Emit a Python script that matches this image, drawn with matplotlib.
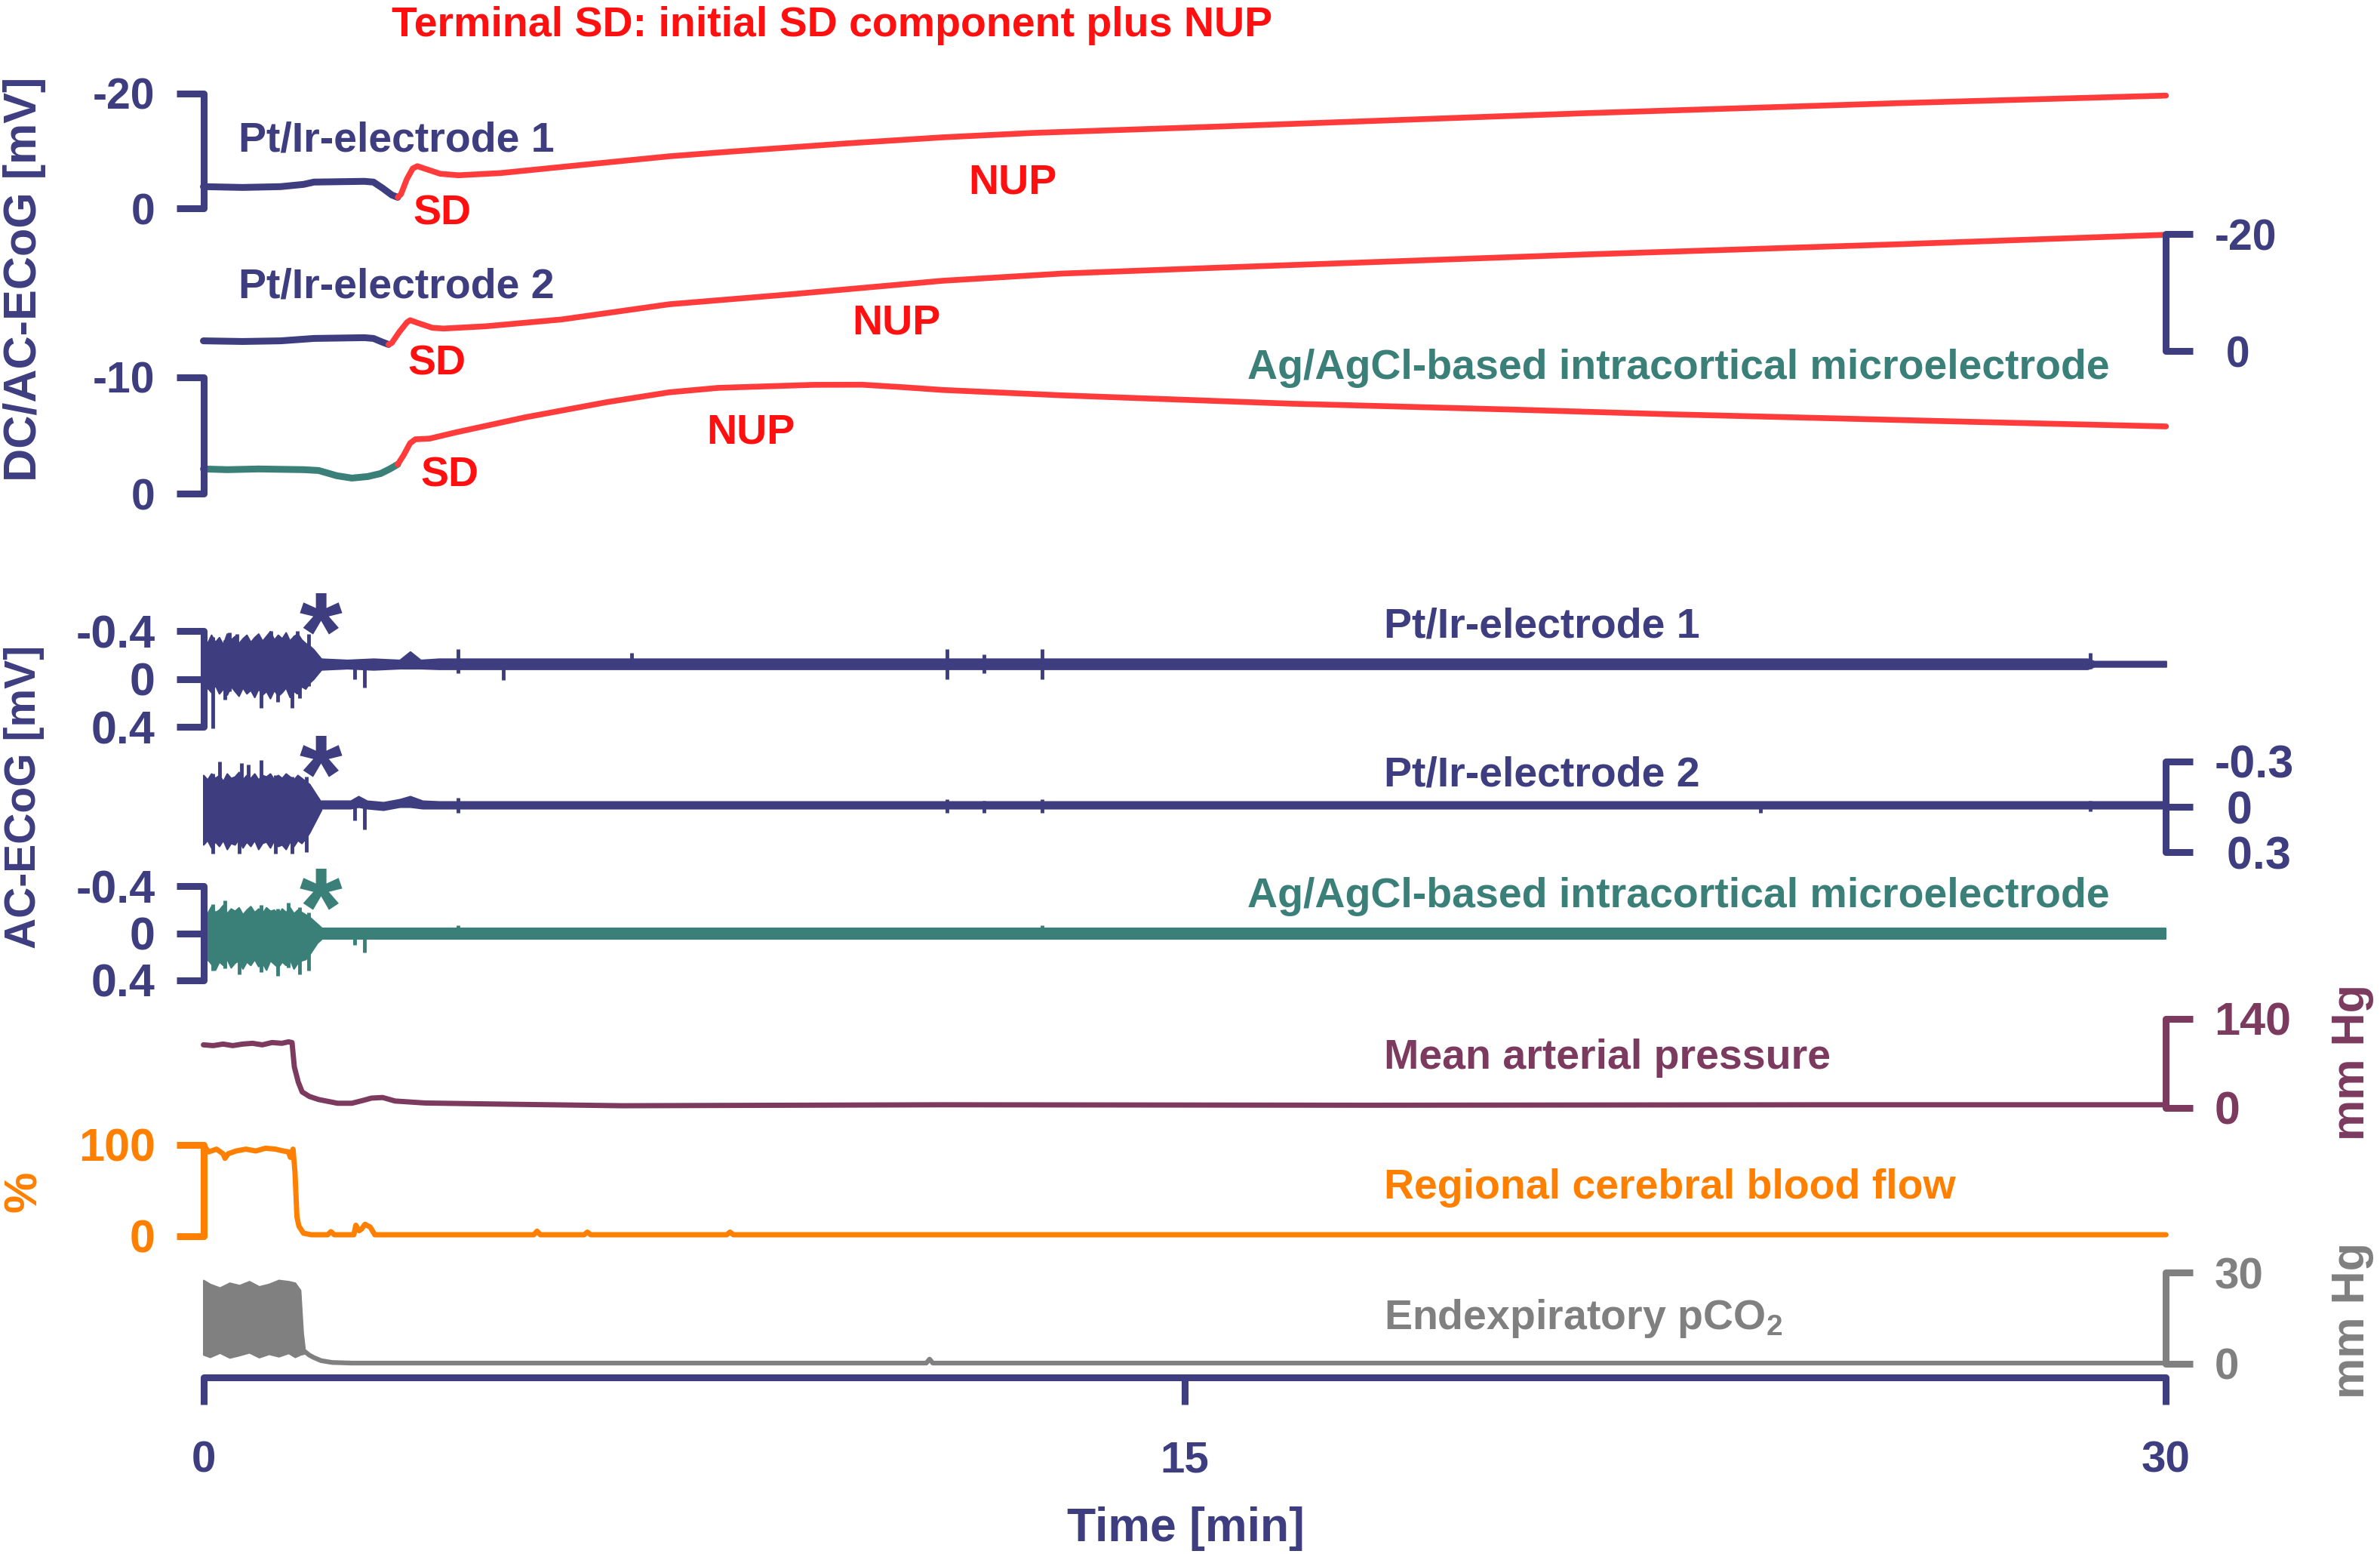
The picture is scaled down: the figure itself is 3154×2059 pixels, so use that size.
import matplotlib
matplotlib.use("Agg")
import matplotlib.pyplot as plt
import numpy as np

plt.rcParams["font.family"] = ["Liberation Sans", "DejaVu Sans"]
plt.rcParams["font.weight"] = "bold"
plt.rcParams["mathtext.fontset"] = "custom"
plt.rcParams["mathtext.rm"] = "Liberation Sans:bold"
plt.rcParams["mathtext.default"] = "rm"

NAVY = "#3D3D80"
TEAL = "#3A8079"
RED = "#FF3B3B"
RED_TXT = "#FF1010"
PLUM = "#7B3A5E"
ORANGE = "#FF8000"
GREY = "#808080"

# ---------------- DC-ECoG traces (mV, negative plotted upwards) ----------------
dc1_t = [0.0, 0.60, 1.18, 1.53, 1.69, 2.46, 2.60, 2.74, 2.88, 2.97, 3.02, 3.11, 3.20, 3.27,
         3.41, 3.62, 3.90, 4.55, 5.48, 7.12, 8.03, 9.89, 11.30, 12.67, 15.45, 21.11, 25.89, 30.0]
dc1_v = [-3.82, -3.68, -3.82, -4.21, -4.61, -4.74, -4.61, -3.55, -2.37, -1.97, -2.50, -5.13,
         -6.97, -7.37, -6.84, -6.05, -5.79, -6.18, -7.24, -9.08, -9.87, -11.36, -12.37, -13.13,
         -14.21, -16.55, -18.29, -19.61]
dc1_sd = 2.97

dc2_t = [0.0, 0.60, 1.18, 1.53, 1.69, 2.46, 2.60, 2.74, 2.83, 2.88, 2.99, 3.11, 3.16, 3.29,
         3.50, 3.67, 4.32, 5.48, 7.12, 8.96, 11.30, 13.13, 15.45, 21.11, 25.89, 30.0]
dc2_v = [-1.74, -1.63, -1.74, -2.02, -2.15, -2.28, -2.15, -1.50, -1.12, -1.37, -3.19, -4.88,
         -5.27, -4.75, -3.97, -3.84, -4.23, -5.40, -7.99, -9.68, -12.01, -13.24, -14.22,
         -16.50, -18.24, -19.87]
dc2_sd = 2.83

dc3_t = [0.0, 0.37, 0.84, 1.53, 1.76, 2.04, 2.27, 2.51, 2.71, 2.85, 2.97, 3.06, 3.16, 3.24,
         3.46, 3.85, 4.92, 6.17, 7.12, 7.87, 9.33, 10.07, 10.74, 11.30, 13.13, 16.61, 20.09,
         22.42, 24.80, 27.05, 30.0]
dc3_v = [-2.14, -2.08, -2.14, -2.08, -2.01, -1.56, -1.36, -1.49, -1.75, -2.14, -2.53, -3.31,
         -4.35, -4.68, -4.74, -5.26, -6.56, -7.86, -8.70, -9.08, -9.34, -9.35, -9.12, -8.90,
         -8.44, -7.73, -7.21, -6.82, -6.49, -6.17, -5.78]
dc3_sd = 2.97

# ---------------- AC-ECoG traces (mV, negative up) ----------------
burst_t = [0.0, 0.06, 0.12, 0.18, 0.24, 0.30, 0.36, 0.42, 0.48, 0.54, 0.60, 0.66, 0.72, 0.78,
           0.84, 0.90, 0.96, 1.02, 1.08, 1.14, 1.20, 1.26, 1.32, 1.38, 1.44, 1.50, 1.56, 1.62,
           1.68, 1.74, 1.80]

ac1_hi = [-0.36, -0.30, -0.37, -0.31, -0.35, -0.29, -0.38, -0.33, -0.36, -0.30, -0.34, -0.37,
          -0.31, -0.35, -0.38, -0.32, -0.36, -0.40, -0.33, -0.37, -0.34, -0.39, -0.32, -0.36,
          -0.38, -0.33, -0.30, -0.28, -0.25, -0.21, -0.17]
ac1_lo = [0.14, 0.07, 0.11, 0.05, 0.12, 0.08, 0.13, 0.06, 0.10, 0.14, 0.07, 0.12, 0.09, 0.15,
          0.08, 0.13, 0.10, 0.16, 0.09, 0.14, 0.11, 0.07, 0.15, 0.10, 0.12, 0.06, 0.08, 0.03,
          0.00, -0.04, -0.08]
ac1_post_t = [1.8, 2.2, 2.6, 3.0, 3.16, 3.32, 3.6, 28.8, 28.9, 30.0]
ac1_post_hi = [-0.17, -0.16, -0.17, -0.16, -0.23, -0.16, -0.17, -0.17, -0.15, -0.15]
ac1_post_lo = [-0.08, -0.09, -0.08, -0.09, -0.09, -0.09, -0.085, -0.085, -0.105, -0.105]
ac1_spike_t = [0.14, 0.33, 0.40, 0.51, 0.88, 1.03, 1.14, 1.36, 1.43, 1.47, 1.61,
               2.31, 2.46, 3.89, 4.59, 6.54, 11.37, 11.93, 12.82, 28.84]
ac1_spike_hi = [-0.35, -0.33, -0.39, -0.38, -0.33, -0.40, -0.36, -0.34, -0.40, -0.34, -0.38,
                -0.14, -0.15, -0.25, -0.13, -0.22, -0.25, -0.21, -0.25, -0.22]
ac1_spike_lo = [0.41, 0.17, 0.10, 0.10, 0.24, 0.12, 0.19, 0.24, 0.12, 0.16, 0.06,
                0.00, 0.07, -0.05, 0.01, -0.10, 0.00, -0.05, 0.00, -0.09]

ac2_hi = [-0.21, -0.18, -0.22, -0.19, -0.21, -0.17, -0.22, -0.19, -0.20, -0.23, -0.18, -0.21,
          -0.19, -0.22, -0.18, -0.21, -0.20, -0.22, -0.18, -0.21, -0.19, -0.22, -0.20, -0.18,
          -0.21, -0.19, -0.17, -0.15, -0.11, -0.07, -0.03]
ac2_lo = [0.25, 0.22, 0.27, 0.23, 0.26, 0.22, 0.28, 0.24, 0.25, 0.21, 0.27, 0.23, 0.26, 0.22,
          0.28, 0.24, 0.23, 0.27, 0.22, 0.26, 0.25, 0.28, 0.23, 0.26, 0.22, 0.24, 0.21, 0.17,
          0.12, 0.07, 0.02]
ac2_post_t = [1.8, 2.25, 2.37, 2.5, 2.75, 3.0, 3.16, 3.35, 3.6, 30.0]
ac2_post_hi = [-0.04, -0.04, -0.07, -0.04, -0.03, -0.05, -0.07, -0.04, -0.035, -0.035]
ac2_post_lo = [0.01, 0.01, 0.0, 0.01, 0.02, 0.0, 0.0, 0.01, 0.01, 0.01]
ac2_spike_t = [0.14, 0.25, 0.55, 0.58, 0.69, 0.88, 1.10, 1.36, 1.57,
               2.31, 2.46, 3.89, 11.37, 11.93, 12.82, 23.8, 28.84]
ac2_spike_hi = [-0.22, -0.30, -0.22, -0.29, -0.28, -0.31, -0.21, -0.20, -0.20,
                -0.03, -0.04, -0.06, -0.05, -0.04, -0.05, -0.02, -0.04]
ac2_spike_lo = [0.31, 0.24, 0.31, 0.25, 0.24, 0.24, 0.31, 0.31, 0.30,
                0.09, 0.15, 0.04, 0.04, 0.04, 0.04, 0.04, 0.03]

ac3_hi = [-0.21, -0.17, -0.23, -0.18, -0.20, -0.24, -0.17, -0.21, -0.19, -0.22, -0.16, -0.20,
          -0.23, -0.18, -0.21, -0.17, -0.22, -0.19, -0.20, -0.16, -0.21, -0.18, -0.22, -0.17,
          -0.20, -0.18, -0.16, -0.14, -0.11, -0.08, -0.05]
ac3_lo = [0.28, 0.22, 0.26, 0.31, 0.24, 0.27, 0.22, 0.29, 0.25, 0.23, 0.30, 0.24, 0.27, 0.22,
          0.28, 0.25, 0.31, 0.23, 0.26, 0.29, 0.24, 0.27, 0.22, 0.30, 0.25, 0.23, 0.22, 0.18,
          0.13, 0.08, 0.05]
ac3_post_t = [1.8, 30.0]
ac3_post_hi = [-0.04, -0.04]
ac3_post_lo = [0.05, 0.05]
ac3_spike_t = [0.03, 0.14, 0.33, 0.55, 0.88, 1.14, 1.30, 1.47, 1.61, 2.31, 2.46, 3.89, 12.82]
ac3_spike_hi = [-0.22, -0.25, -0.28, -0.20, -0.24, -0.21, -0.26, -0.22, -0.18, -0.02, -0.03,
                -0.07, -0.07]
ac3_spike_lo = [0.38, 0.32, 0.30, 0.35, 0.33, 0.36, 0.29, 0.35, 0.32, 0.10, 0.16, 0.05, 0.05]

# ---------------- systemic signals ----------------
map_t = [0.0, 0.15, 0.3, 0.45, 0.6, 0.75, 0.9, 1.05, 1.2, 1.3, 1.355, 1.39, 1.45, 1.51, 1.62,
         1.76, 2.05, 2.27, 2.45, 2.57, 2.74, 2.93, 3.39, 4.43, 6.40, 11.3, 17.8, 24.7, 30.0]
map_v = [99.0, 97.8, 100.2, 97.8, 100.2, 101.4, 99.0, 102.6, 101.4, 103.7, 102.6, 64.4, 40.5,
         25.0, 17.9, 13.1, 7.2, 7.2, 11.9, 15.3, 16.2, 10.7, 7.6, 6.0, 3.3, 4.8, 4.1, 4.8, 4.8]

cbf_t = [0.0, 0.08, 0.2, 0.3, 0.33, 0.38, 0.5, 0.65, 0.8, 0.95, 1.1, 1.22, 1.3, 1.33, 1.37,
         1.40, 1.43, 1.46, 1.53, 1.65, 1.90, 1.95, 2.0, 2.30, 2.33, 2.38, 2.42, 2.47, 2.55,
         2.62, 5.05, 5.1, 5.15, 5.82, 5.87, 5.92, 8.0, 8.05, 8.1, 30.0]
cbf_v = [100, 92, 95, 90, 85, 90, 93, 95, 93, 96, 95, 93, 92, 86, 95,
         70, 21, 11, 3.3, 1.6, 1.6, 5, 1.6, 1.6, 12, 6, 8, 13, 10,
         1.6, 1.6, 5.5, 1.6, 1.6, 4.5, 1.6, 1.6, 4.5, 1.6, 1.6]

pco2_block_t = [0.0, 0.1, 0.25, 0.4, 0.55, 0.7, 0.85, 1.0, 1.15, 1.3, 1.4, 1.48, 1.52, 1.55]
pco2_block_hi = [27.5, 26.2, 25.0, 26.6, 25.8, 27.1, 25.4, 26.2, 27.5, 27.1, 26.6, 24.2, 10.0, 4.5]
pco2_block_lo = [3.0, 2.2, 3.6, 2.0, 2.8, 3.7, 2.1, 3.2, 2.4, 3.5, 2.2, 3.0, 3.2, 3.4]
pco2_t = [1.55, 1.62, 1.69, 1.8, 1.97, 2.27, 11.05, 11.1, 11.15, 30.0]
pco2_v = [4.0, 2.8, 2.0, 1.0, 0.4, 0.2, 0.2, 1.5, 0.2, 0.2]

time_ticks = [0, 15, 30]

# ---------------- layout helpers (positions on a 1568 x 1024 grid) ----------------
W, H = 1568.0, 1024.0
X0, X1 = 134.0, 1427.0
BAR_LW = 6.5
TICK_LEN = 26

fig = plt.figure(figsize=(31.54, 20.59), dpi=100)


def trace_axes(y_top, y_bot, v_top, v_bot):
    ax = fig.add_axes([X0 / W, 1 - y_bot / H, (X1 - X0) / W, (y_bot - y_top) / H])
    ax.patch.set_alpha(0)
    for sp in ax.spines.values():
        sp.set_visible(False)
    ax.set_xticks([])
    ax.set_yticks([])
    ax.set_xlim(0, 30)
    ax.set_ylim(v_bot, v_top)
    return ax


def scale_bar(ax, side, ticks, labels, color, size):
    lim = ax.get_ylim()
    sp = ax.spines[side]
    sp.set_visible(True)
    sp.set_color(color)
    sp.set_linewidth(BAR_LW)
    sp.set_bounds(min(ticks), max(ticks))
    sp.set_capstyle("round")
    ax.yaxis.set_ticks_position(side)
    ax.set_yticks(ticks)
    ax.set_yticklabels(labels)
    ax.tick_params(axis="y", direction="out", length=TICK_LEN, width=BAR_LW, color=color,
                   labelcolor=color, labelsize=size, pad=20)
    ax.set_ylim(lim)


def put(x, y, s, color, ha="left", size=40, **kw):
    fig.text(x / W, 1 - y / H, s, color=color, ha=ha, va="baseline", fontsize=size, **kw)


def plot_dc(ax, t, v, t_sd, color):
    t = np.asarray(t)
    v = np.asarray(v)
    pre = t <= t_sd
    post = t >= t_sd
    ax.plot(t[pre], v[pre], color=color, lw=6.5, clip_on=False, solid_capstyle="round",
            solid_joinstyle="round")
    ax.plot(t[post], v[post], color=RED, lw=5.5, clip_on=False, solid_capstyle="round",
            solid_joinstyle="round")


def plot_ac(ax, color, hi, lo, pt, phi, plo, st, shi, slo):
    ax.fill_between(burst_t, hi, lo, color=color, lw=1.5, clip_on=False)
    ax.fill_between(pt, phi, plo, color=color, lw=1.5, clip_on=False)
    ax.vlines(st, shi, slo, color=color, lw=3.5, clip_on=False)


# ---------------- DC panel ----------------
ax = trace_axes(61.5, 137.5, -20, 0)
plot_dc(ax, dc1_t, dc1_v, dc1_sd, NAVY)
scale_bar(ax, "left", [-20, 0], ["-20", "0"], NAVY, 41)

ax = trace_axes(154.2, 231.3, -20, 0)
plot_dc(ax, dc2_t, dc2_v, dc2_sd, NAVY)
scale_bar(ax, "right", [-20, 0], ["-20", " 0"], NAVY, 41)

ax = trace_axes(248.5, 325.5, -10, 0)
plot_dc(ax, dc3_t, dc3_v, dc3_sd, TEAL)
scale_bar(ax, "left", [-10, 0], ["-10", "0"], NAVY, 41)

# ---------------- AC panel ----------------
ax = trace_axes(416, 479, -0.4, 0.4)
plot_ac(ax, NAVY, ac1_hi, ac1_lo, ac1_post_t, ac1_post_hi, ac1_post_lo,
        ac1_spike_t, ac1_spike_hi, ac1_spike_lo)
scale_bar(ax, "left", [-0.4, 0, 0.4], ["-0.4", "0", "0.4"], NAVY, 44)

ax = trace_axes(501.8, 561.5, -0.3, 0.3)
plot_ac(ax, NAVY, ac2_hi, ac2_lo, ac2_post_t, ac2_post_hi, ac2_post_lo,
        ac2_spike_t, ac2_spike_hi, ac2_spike_lo)
scale_bar(ax, "right", [-0.3, 0, 0.3], ["-0.3", " 0", " 0.3"], NAVY, 44)

ax = trace_axes(584, 646, -0.4, 0.4)
plot_ac(ax, TEAL, ac3_hi, ac3_lo, ac3_post_t, ac3_post_hi, ac3_post_lo,
        ac3_spike_t, ac3_spike_hi, ac3_spike_lo)
scale_bar(ax, "left", [-0.4, 0, 0.4], ["-0.4", "0", "0.4"], NAVY, 44)

# ---------------- systemic panel ----------------
ax = trace_axes(671.3, 730, 140, 0)
ax.plot(map_t, map_v, color=PLUM, lw=5, clip_on=False, solid_capstyle="round")
scale_bar(ax, "right", [0, 140], ["0", "140"], PLUM, 44)

ax = trace_axes(754.2, 814.6, 100, 0)
ax.plot(cbf_t, cbf_v, color=ORANGE, lw=5, clip_on=False, solid_capstyle="round")
scale_bar(ax, "left", [0, 100], ["0", "100"], ORANGE, 44)

ax = trace_axes(838.5, 898.6, 30, 0)
ax.fill_between(pco2_block_t, pco2_block_hi, pco2_block_lo, color=GREY, lw=1.5, clip_on=False)
ax.plot(pco2_t, pco2_v, color=GREY, lw=4.5, clip_on=False, solid_capstyle="round")
scale_bar(ax, "right", [0, 30], ["0", "30"], GREY, 42)

# ---------------- time axis ----------------
axt = fig.add_axes([X0 / W, 1 - 907.6 / H, (X1 - X0) / W, 0.01])
axt.patch.set_alpha(0)
for name, sp in axt.spines.items():
    sp.set_visible(name == "bottom")
axt.spines["bottom"].set_color(NAVY)
axt.spines["bottom"].set_linewidth(BAR_LW)
axt.spines["bottom"].set_capstyle("round")
axt.set_xlim(0, 30)
axt.set_yticks([])
axt.set_xticks(time_ticks)
axt.set_xticklabels([str(v) for v in time_ticks])
axt.tick_params(axis="x", direction="out", length=TICK_LEN, width=BAR_LW, color=NAVY,
                labelcolor=NAVY, labelsize=42, pad=34)
put(781, 1015.6, "Time [min]", NAVY, ha="center", size=45)

# ---------------- annotations ----------------
put(548, 24, "Terminal SD: initial SD component plus NUP", RED_TXT, ha="center")
put(157, 99.5, "Pt/Ir-electrode 1", NAVY)
put(157, 196.4, "Pt/Ir-electrode 2", NAVY)
put(822, 249.5, "Ag/AgCl-based intracortical microelectrode", TEAL)
for sx, sy in [(291.5, 148), (287.6, 247), (296.5, 320.7)]:
    put(sx, sy, "SD", RED_TXT, ha="center")
for nx, ny in [(667, 127.8), (590.5, 220), (494.5, 292)]:
    put(nx, ny, "NUP", RED_TXT, ha="center")

put(912, 420, "Pt/Ir-electrode 1", NAVY)
put(912, 518, "Pt/Ir-electrode 2", NAVY)
put(822, 597.6, "Ag/AgCl-based intracortical microelectrode", TEAL)
for ay, col in [(399, NAVY), (493, NAVY), (580.5, TEAL)]:
    put(211.5, ay + 42, "*", col, ha="center", size=105)

put(912, 704, "Mean arterial pressure", PLUM)
put(912, 790, "Regional cerebral blood flow", ORANGE)
put(912, 876, "Endexpiratory pCO$_2$", GREY)

fig.text(16 / W, 1 - 184 / H, "DC/AC-ECoG [mV]", color=NAVY, rotation=90,
         ha="center", va="center", fontsize=44)
fig.text(16 / W, 1 - 525 / H, "AC-ECoG [mV]", color=NAVY, rotation=90,
         ha="center", va="center", fontsize=41)
fig.text(16 / W, 1 - 785 / H, "%", color=ORANGE, rotation=90,
         ha="center", va="center", fontsize=44)
fig.text(1550 / W, 1 - 700 / H, "mm Hg", color=PLUM, rotation=90,
         ha="center", va="center", fontsize=44)
fig.text(1550 / W, 1 - 870 / H, "mm Hg", color=GREY, rotation=90,
         ha="center", va="center", fontsize=44)

fig.savefig("out.png", dpi=100, facecolor="white")
